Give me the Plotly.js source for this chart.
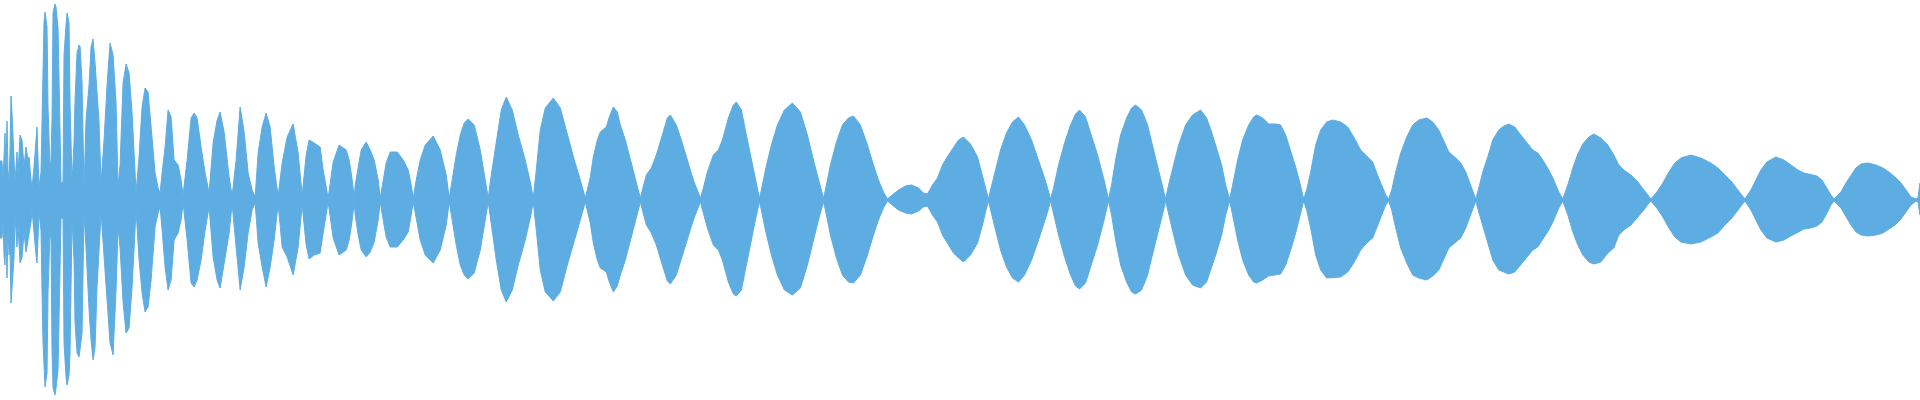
<!DOCTYPE html>
<html>
<head>
<meta charset="utf-8">
<script src="https://cdn.plot.ly/plotly-3.0.1.min.js"></script>
<style>
  html, body { margin: 0; padding: 0; background: #ffffff; overflow: hidden; }
  #chart { width: 1920px; height: 400px; }
</style>
</head>
<body>
<div id="chart"></div>
<script>
// Sample position (time index) of each envelope point
const time = [
  0,2,3,4,5,6,7,8,9,10,11,12,14,15,17,18,20,22,24,26,28,29,31,32,34,36,37,38,39,41,
  42,43,44,45,47,48,50,51,52,53,55,56,58,59,61,63,64,66,67,69,70,72,74,75,77,79,80,82,84,86,
  89,91,93,95,97,99,101,104,107,110,113,116,118,120,123,126,129,132,136,139,
  142,145,148,151,155,158,160,162,165,168,171,174,178,181,183,187,191,194,197,201,
  205,209,213,217,220,224,229,232,236,240,244,248,252,255,258,262,266,270,274,278,
  282,287,293,298,302,306,309,314,320,323,328,
  333,339,346,349,352,354,
  355,358,361,366,370,374,378,380,
  383,386,390,397,403,408,411,413,
  416,420,425,433,440,446,449,
  452,456,460,464,468,474,480,485,488,
  491,496,501,506,512,518,525,530,533,
  536,540,545,553,560,567,574,580,585,
  587,590,593,597,600,606,609,613,617,620,625,630,634,638,640,
  642,646,651,656,662,667,670,676,681,687,693,700,
  703,707,713,718,722,728,733,736,741,746,751,755,759,
  761,765,771,777,784,792,800,807,813,818,823,
  825,830,836,842,848,853,860,867,873,878,883,887,
  893,898,905,911,918,923,927,
  932,937,942,948,953,958,963,970,977,982,985,988,
  990,995,1000,1006,1012,1018,1024,1031,1037,1043,1047,1050,
  1053,1058,1064,1070,1075,1079,1085,1091,1097,1103,1106,1108,
  1111,1115,1120,1126,1131,1135,1141,1147,1153,1159,1163,1165,
  1168,1173,1178,1185,1192,1200,1206,1211,1216,1221,1225,1229,
  1232,1237,1242,1248,1253,1256,1262,1268,1275,1280,1285,1290,1295,1299,1303,
  1306,1310,1315,1320,1326,1332,1340,1347,1353,1360,1366,1372,1376,1381,1385,1388,
  1391,1395,1400,1406,1412,1418,1426,1432,1438,1444,1448,1454,1460,1465,1470,1475,
  1478,1482,1487,1492,1498,1503,1508,1514,1520,1526,1532,1537,1542,1548,1553,1558,1562,
  1567,1572,1577,1582,1588,1593,1600,1607,1613,1618,1623,1630,1637,1643,1648,1650,
  1656,1662,1668,1674,1680,1690,1700,1710,1717,1724,1731,1737,1744,
  1750,1755,1760,1766,1775,1783,1790,1797,1803,1810,1816,1821,1825,1830,1833,
  1840,1845,1850,1855,1860,1867,1875,1882,1888,1894,1900,1905,1910,1915,1917,1919
];

// Positive peak amplitude at each point (full scale = 200)
const envTop = [
  39,39,20,57,67,30,79,30,18,50,104,87,50,18,48,25,65,60,33,53,40,43,20,12,33,58,73,40,13,28,
  93,147,178,188,173,93,32,40,82,187,196,193,172,120,17,18,145,175,187,177,97,18,57,100,147,155,154,118,13,80,
  115,153,161,137,107,78,17,60,115,157,145,97,13,35,117,136,127,87,8,43,
  93,112,108,73,27,12,7,27,53,90,83,40,35,20,5,40,82,87,82,53,
  27,7,57,80,88,68,23,4,40,93,68,27,10,3,47,73,87,73,33,4,
  37,63,76,47,5,45,60,57,53,30,2,
  38,55,50,40,20,2,
  15,35,50,58,50,40,20,2,
  20,37,48,48,40,30,15,2,
  20,40,55,64,50,25,2,
  22,45,65,77,81,75,50,20,2,
  25,60,90,103,90,65,40,18,2,
  30,70,92,102,92,65,40,20,2,
  10,23,43,60,68,73,83,93,88,75,60,40,25,10,2,
  10,25,32,45,65,82,85,75,60,40,20,2,
  12,28,45,50,60,82,95,98,90,65,40,20,2,
  10,30,55,75,90,97,88,65,40,20,2,
  10,35,58,75,82,84,75,55,35,20,8,1,
  6,10,14,15,12,7,6,
  15,22,35,45,53,60,63,56,43,25,12,1,
  10,30,50,67,78,83,75,60,43,25,12,1,
  12,35,57,75,86,90,83,65,45,22,10,1,
  15,40,65,82,92,95,90,75,50,25,10,1,
  15,35,55,75,85,90,82,68,52,35,15,1,
  15,40,60,75,83,85,82,76,76,75,65,50,33,18,1,
  10,28,55,70,78,80,78,73,63,50,44,38,27,15,5,1,
  10,28,47,63,75,80,82,78,70,57,48,43,37,28,15,1,
  12,28,43,60,70,74,76,73,65,57,50,47,40,30,20,8,1,
  15,32,46,56,63,66,62,55,45,35,30,25,18,10,3,1,
  8,17,28,37,42,45,42,37,32,25,18,10,1,
  10,20,30,38,43,40,35,30,27,25,24,20,13,5,1,
  8,17,25,32,36,37,35,32,28,23,17,10,3,1,2,17
];

// Negative peak amplitude at each point
const envBottom = [
  -38,-38,-20,-55,-65,-32,-78,-30,-55,-50,-103,-85,-58,-17,-47,-25,-63,-58,-32,-52,-38,-35,-22,-10,-35,-55,-63,-40,-13,-30,
  -92,-143,-170,-187,-173,-93,-30,-40,-150,-188,-195,-188,-170,-118,-18,-18,-143,-177,-185,-175,-153,-20,-60,-123,-153,-157,-153,-133,-13,-48,
  -110,-140,-160,-147,-87,-50,-13,-53,-100,-143,-155,-90,-27,-48,-102,-133,-128,-87,-10,-60,
  -93,-112,-107,-80,-27,-13,-7,-30,-67,-90,-80,-40,-33,-20,-3,-40,-83,-87,-80,-60,
  -30,-7,-57,-80,-88,-63,-33,-4,-43,-90,-67,-33,-10,-3,-43,-67,-87,-67,-40,-4,
  -47,-57,-75,-47,-5,-45,-59,-55,-53,-33,-2,
  -38,-55,-50,-40,-20,-2,
  -15,-35,-50,-57,-52,-42,-20,-2,
  -20,-37,-47,-47,-40,-32,-15,-2,
  -20,-40,-55,-63,-50,-25,-2,
  -22,-45,-65,-75,-79,-73,-50,-20,-2,
  -25,-60,-90,-102,-90,-65,-40,-18,-2,
  -30,-70,-92,-101,-92,-65,-40,-20,-2,
  -10,-23,-43,-60,-68,-72,-82,-92,-86,-75,-60,-40,-25,-10,-2,
  -10,-25,-33,-45,-65,-81,-84,-75,-60,-40,-20,-2,
  -12,-28,-45,-50,-60,-82,-94,-96,-90,-65,-40,-20,-2,
  -10,-30,-55,-75,-90,-95,-88,-65,-40,-20,-2,
  -10,-35,-58,-75,-82,-83,-75,-55,-35,-20,-8,-1,
  -6,-10,-13,-14,-11,-7,-6,
  -15,-22,-35,-45,-53,-58,-62,-55,-43,-25,-12,-1,
  -10,-30,-50,-67,-78,-82,-75,-60,-43,-25,-12,-1,
  -12,-35,-57,-75,-86,-89,-83,-65,-45,-22,-10,-1,
  -15,-40,-65,-82,-92,-94,-90,-75,-50,-25,-10,-1,
  -15,-35,-55,-75,-85,-88,-82,-68,-52,-35,-15,-1,
  -15,-40,-60,-75,-82,-83,-80,-76,-75,-74,-65,-50,-33,-18,-1,
  -10,-28,-55,-70,-78,-78,-77,-72,-63,-50,-43,-38,-27,-15,-5,-1,
  -10,-28,-48,-63,-75,-78,-80,-76,-70,-57,-48,-43,-38,-28,-15,-1,
  -12,-28,-43,-60,-70,-72,-74,-72,-65,-57,-50,-47,-40,-30,-20,-8,-1,
  -15,-32,-45,-55,-62,-64,-62,-53,-48,-35,-30,-25,-17,-10,-3,-1,
  -8,-17,-28,-37,-42,-44,-42,-37,-33,-25,-18,-10,-1,
  -10,-20,-30,-38,-42,-40,-36,-32,-29,-28,-26,-22,-15,-5,-1,
  -8,-17,-25,-32,-35,-36,-35,-33,-29,-25,-19,-12,-5,-1,-2,-15
];

const waveColor = '#5DADE2';

if (time.length !== envTop.length || time.length !== envBottom.length) {
  console.error('length mismatch', time.length, envTop.length, envBottom.length);
}

// Closed outline: upper envelope left->right, then lower envelope right->left
const polyX = time.concat(time.slice().reverse());
const polyY = envTop.concat(envBottom.slice().reverse());

const traces = [{
  type: 'scatter',
  mode: 'lines',
  x: polyX,
  y: polyY,
  fill: 'toself',
  fillcolor: waveColor,
  line: { color: waveColor, width: 1 },
  hoverinfo: 'skip'
}];

const layout = {
  width: 1920,
  height: 400,
  margin: { l: 0, r: 0, t: 0, b: 0, pad: 0 },
  paper_bgcolor: '#ffffff',
  plot_bgcolor: '#ffffff',
  showlegend: false,
  xaxis: { visible: false, range: [0, 1919], fixedrange: true },
  yaxis: { visible: false, range: [-200, 200], fixedrange: true }
};

Plotly.newPlot('chart', traces, layout, { staticPlot: true, displayModeBar: false });
</script>
</body>
</html>
